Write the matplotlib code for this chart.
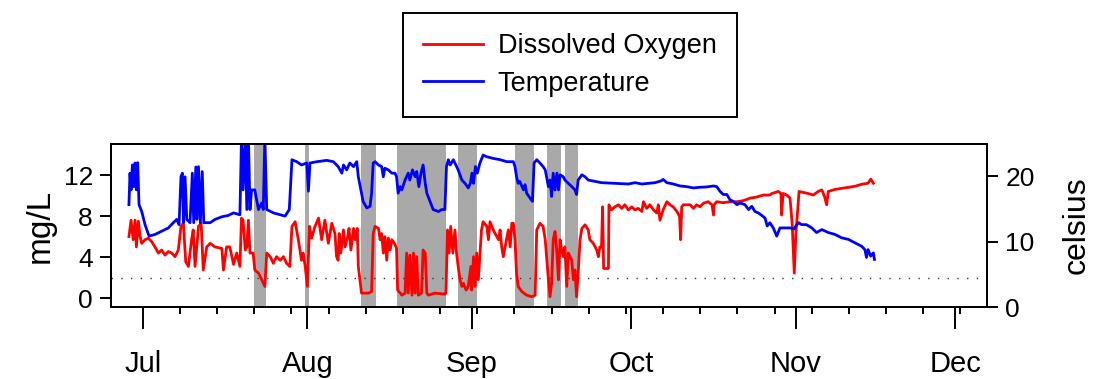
import matplotlib
matplotlib.use("Agg")
import matplotlib.pyplot as plt
import matplotlib.dates as mdates
import numpy as np
from datetime import datetime

plt.rcParams["font.family"] = ["Liberation Sans", "DejaVu Sans"]

# season start; all day values below are days after this date
START = datetime(2013, 7, 1)

# dissolved oxygen (mg/L)
do_day = [
    -2.6, -2.2, -1.8, -1.45, -1.2, -0.83, -0.5, -0.19, 0.43, 1.06, 1.7, 2.3,
    2.95, 3.57, 4.2, 4.82, 5.46, 6.08, 6.7, 7.2, 7.65, 8.1, 8.6, 9.2, 9.5,
    9.85, 10.5, 11.0, 11.4, 12.05, 12.7, 13.6, 14.9, 15.2, 15.8, 16.4, 17.1,
    17.7, 18.3, 18.6, 18.9, 19.3, 19.6, 19.9, 20.2, 20.8, 21.1, 21.8, 22.4,
    23.0, 23.35, 24.0, 24.6, 25.2, 25.9, 26.5, 27.1, 27.7, 28.1, 28.7, 29.3,
    29.9, 30.2, 30.6, 31.0, 31.4, 31.8, 32.45, 33.1, 33.7, 34.3, 34.95, 35.6,
    36.2, 36.5, 36.8, 37.0, 37.3, 37.8, 38.1, 38.6, 38.85, 39.2, 39.7, 40.0,
    40.4, 40.6, 40.9, 41.2, 41.9, 42.5, 43.1, 43.4, 43.75, 44.4, 44.7, 45.0,
    45.3, 45.6, 45.95, 46.25, 46.6, 46.9, 47.4, 47.8, 48.0, 48.5, 48.8, 49.4,
    49.7, 50.0, 50.3, 50.7, 51.0, 51.3, 51.6, 51.9, 52.5, 52.8, 53.2, 53.5,
    53.8, 55.0, 56.9, 57.1, 57.4, 57.7, 58.0, 58.4, 58.8, 59.1, 59.4, 59.75,
    60.1, 60.4, 60.9, 61.3, 61.8, 61.95, 62.3, 62.6, 62.9, 63.2, 63.8, 64.1,
    64.8, 65.1, 65.4, 66.0, 66.7, 67.0, 67.3, 67.6, 67.9, 68.5, 68.85, 69.2,
    69.5, 69.8, 70.1, 70.4, 70.7, 71.4, 72.3, 73.3, 73.9, 74.2, 74.8, 75.4,
    75.8, 76.1, 76.4, 76.7, 77.0, 77.3, 77.65, 78.0, 78.3, 78.6, 78.9, 79.2,
    79.5, 79.85, 80.15, 80.8, 81.1, 81.4, 81.7, 82.0, 82.35, 82.7, 83.3, 83.9,
    84.2, 84.85, 85.5, 85.8, 86.1, 86.4, 86.6, 86.8, 87.7, 87.8, 88.3, 88.9,
    89.6, 90.2, 90.8, 91.45, 92.1, 92.7, 93.3, 94.0, 94.3, 94.9, 95.5, 96.2,
    96.8, 97.1, 97.4, 97.7, 98.0, 98.7, 99.3, 99.9, 100.6, 101.1, 101.3,
    101.5, 101.8, 103.1, 103.7, 104.3, 104.95, 105.6, 106.5, 107.2, 107.5,
    107.6, 108.1, 109.3, 110.6, 111.9, 113.1, 114.4, 115.6, 116.9, 118.1,
    118.5, 119.7, 120.2, 120.3, 120.6, 121.3, 121.9, 122.3, 122.7, 123.0,
    123.35, 123.6, 124.4, 125.3, 126.3, 127.2, 127.9, 128.4, 128.8, 129.1,
    130.4, 131.6, 132.9, 134.1, 135.4, 136.6, 137.1, 137.6,
]
do_mgl = [
    6.0, 7.6, 5.7, 7.6, 5.0, 7.5, 6.0, 5.35, 5.7, 5.85, 5.5, 5.0,
    4.4, 4.7, 4.2, 4.55, 4.4, 4.05, 4.7, 7.0, 7.3, 3.55, 3.1, 5.7, 6.65,
    3.1, 7.0, 7.3, 2.75, 5.0, 5.35, 5.0, 4.85, 2.75, 5.0, 5.0, 3.3,
    4.4, 3.1, 7.8, 7.6, 4.7, 5.0, 7.6, 4.4, 4.4, 2.75, 2.45, 1.8,
    1.15, 4.4, 4.05, 3.4, 4.05, 3.7, 4.05, 3.4, 3.1, 7.0, 7.45, 5.7,
    3.7, 4.4, 3.1, 1.15, 7.0, 5.85, 7.0, 7.8, 5.7, 7.6, 5.35, 7.3,
    6.3, 4.05, 3.7, 6.3, 4.4, 6.65, 5.0, 6.0, 6.8, 4.7, 6.8, 5.7,
    6.8, 3.1, 1.8, 0.5, 0.5, 0.5, 0.65, 6.3, 7.0, 6.8, 5.7, 6.3,
    4.4, 6.0, 3.7, 5.85, 4.7, 5.7, 5.35, 4.85, 0.8, 0.5, 0.3, 0.5,
    4.4, 0.5, 4.2, 0.3, 4.4, 0.5, 4.05, 0.3, 0.5, 4.7, 4.4, 0.5,
    0.3, 0.5, 0.4, 0.5, 6.65, 4.4, 7.0, 4.4, 6.65, 4.4, 3.1, 1.8,
    1.15, 1.45, 0.8, 1.15, 3.1, 0.8, 4.05, 1.15, 4.4, 1.8, 6.65, 7.45,
    7.0, 5.7, 7.45, 6.65, 6.0, 5.7, 6.65, 5.0, 4.05, 5.7, 6.65, 5.0,
    7.3, 7.3, 5.7, 2.45, 1.15, 0.65, 0.3, 0.15, 0.3, 6.65, 7.3, 7.0,
    5.7, 3.7, 1.8, 0.15, 1.45, 5.7, 6.5, 4.4, 1.8, 5.7, 4.7, 4.05,
    5.0, 1.15, 4.4, 3.7, 1.8, 2.75, 0.15, 2.45, 5.7, 6.8, 7.15, 6.65,
    5.7, 5.35, 4.7, 4.05, 5.0, 5.0, 8.9, 2.9, 2.9, 9.1, 8.6, 8.9,
    9.1, 8.75, 9.1, 8.6, 8.9, 8.6, 8.75, 8.45, 9.4, 8.75, 9.1, 8.6,
    8.3, 9.1, 7.6, 8.1, 8.6, 9.4, 9.1, 8.9, 8.45, 7.95, 5.7,
    8.9, 9.1, 9.1, 8.75, 9.1, 8.9, 9.25, 9.4, 9.1, 8.1,
    9.1, 9.4, 9.3, 9.4, 9.4, 9.5, 9.75, 9.85, 10.05, 10.05,
    10.2, 10.4, 10.2, 8.1, 10.2, 10.05, 9.75, 7.3, 2.45, 6.3,
    8.6, 10.4, 10.3, 10.2, 10.05, 10.4, 10.55, 9.9, 9.1, 10.4,
    10.6, 10.7, 10.8, 10.9, 11.1, 11.2, 11.6, 11.2,
]

# water temperature (celsius); 26 marks readings above the plot top
temp_day = [
    -2.6, -2.4, -2.2, -1.95, -1.7, -1.45, -1.2, -0.95, -0.7, -0.19, 0.43,
    1.19, 2.3, 3.57, 4.82, 5.76, 6.4, 6.84, 7.2, 7.46, 7.7, 7.97, 8.3, 8.9,
    9.34, 9.6, 10.0, 10.2, 10.5, 10.85, 11.2, 11.5, 12.7, 13.6, 14.9, 16.1,
    17.1, 18.3, 18.6, 18.9, 19.3, 19.6, 19.9, 20.2, 20.5, 21.1, 21.8, 22.4,
    22.7, 23.0, 23.35, 24.6, 25.9, 26.8, 27.6, 28.1, 29.0, 29.9, 30.9, 31.2,
    31.5, 32.8, 34.65, 35.9, 36.8, 37.5, 37.8, 38.4, 39.0, 39.7, 40.3, 40.6,
    41.2, 41.5, 42.2, 42.8, 43.1, 43.4, 43.75, 44.4, 45.0, 45.3, 45.6, 46.25,
    46.9, 47.5, 47.8, 48.1, 48.5, 48.8, 49.4, 50.0, 50.3, 50.8, 51.3, 51.6,
    52.0, 52.4, 52.8, 53.2, 53.5, 54.1, 54.7, 55.7, 56.3, 56.9, 57.2, 57.55,
    57.9, 58.5, 59.1, 59.4, 60.1, 60.7, 61.3, 61.7, 62.0, 62.3, 62.65, 63.0,
    63.5, 64.1, 64.8, 66.0, 67.3, 68.55, 69.8, 70.1, 70.4, 70.7, 71.0, 71.7,
    72.0, 72.3, 72.9, 73.4, 73.7, 74.2, 74.8, 75.4, 75.8, 76.4, 76.7, 77.0,
    77.3, 77.65, 78.0, 78.3, 78.6, 79.2, 79.5, 80.15, 80.8, 81.4, 81.7, 82.0,
    82.7, 83.3, 83.9, 85.2, 86.4, 88.9, 91.45, 92.7, 94.0, 96.5, 97.7, 98.0,
    98.7, 99.9, 101.2, 102.4, 103.7, 104.95, 106.2, 107.5, 108.1, 108.7,
    109.3, 110.0, 110.6, 111.2, 111.9, 112.5, 113.4, 114.1, 114.7, 115.3,
    115.9, 116.6, 117.2, 117.6, 118.1, 118.75, 119.4, 120.0, 121.0, 121.9,
    122.7, 123.0, 123.5, 124.1, 125.0, 126.0, 126.9, 127.9, 129.1, 130.4,
    131.6, 132.9, 134.1, 135.4, 136.0, 136.3, 136.6, 137.1, 137.6, 137.8,
]
temp_c = [
    15.65, 20.45, 17.9, 21.7, 18.4, 22.0, 17.9, 22.05, 15.65, 14.6, 12.6,
    10.85, 11.1, 11.6, 12.1, 12.9, 13.4, 12.6, 19.9, 20.45, 12.9, 19.9, 13.4, 12.9,
    20.45, 12.9, 21.4, 13.4, 21.45, 12.9, 20.7, 12.9, 12.9, 13.4, 13.8, 14.0,
    14.4, 14.1, 26.0, 17.9, 26.0, 14.9, 26.0, 14.9, 17.9, 17.9, 14.9, 15.9,
    14.9, 26.0, 14.9, 14.4, 14.1, 13.9, 14.9, 22.5, 22.2, 21.7, 22.0, 17.7,
    22.0, 22.2, 22.4, 22.2, 21.45, 20.45, 21.7, 20.95, 22.0, 21.45, 22.2, 19.9,
    17.4, 16.15, 15.15, 15.4, 17.4, 22.0, 22.2, 21.7, 21.45, 19.9, 21.2, 20.95,
    20.45, 20.45, 19.9, 17.4, 18.4, 17.9, 19.4, 20.45, 19.4, 20.95, 19.9, 20.7,
    18.4, 20.45, 21.7, 18.9, 17.4, 16.15, 14.9, 14.6, 14.9, 14.9, 21.45, 22.5,
    21.7, 22.5, 21.45, 20.95, 19.4, 18.9, 18.2, 18.9, 20.45, 18.9, 21.45, 20.45,
    22.0, 23.2, 22.95, 22.7, 22.5, 22.2, 22.2, 21.45, 19.9, 18.9, 19.2, 17.9,
    18.7, 17.4, 16.7, 16.15, 22.0, 22.5, 22.0, 21.45, 20.95, 18.4, 19.4, 16.9,
    20.45, 17.9, 20.45, 17.9, 20.2, 19.9, 19.4, 18.9, 18.4, 17.9, 17.2, 19.4,
    20.2, 19.9, 19.4, 19.2, 19.0, 18.9, 18.8, 19.0, 18.8, 19.0, 19.3, 19.5,
    19.0, 18.8, 18.5, 18.4, 18.2, 18.3, 18.35, 18.5, 18.4, 17.7,
    17.2, 17.2, 16.4, 16.15, 15.65, 15.9, 15.65, 14.9, 15.4, 14.6,
    14.4, 14.0, 13.6, 12.4, 12.9, 12.1, 10.85, 12.1, 12.1, 12.1,
    11.95, 12.4, 12.9, 12.6, 12.6, 12.1, 11.4, 11.85, 11.4, 11.1,
    10.6, 10.35, 9.85, 9.3, 8.8, 7.6, 8.8, 7.8, 8.3, 7.3,
]

# shaded low-oxygen periods (days after START)
band_start = [20.96, 30.56, 41.1, 47.8, 59.4, 70.1, 76.2, 79.5]
band_end = [23.16, 31.3, 43.96, 57.2, 63.0, 73.7, 78.7, 81.9]

month_labels = ["Jul", "Aug", "Sep", "Oct", "Nov", "Dec"]

t0 = mdates.date2num(START)
do_x = t0 + np.asarray(do_day)
temp_x = t0 + np.asarray(temp_day)

fig = plt.figure(figsize=(10.94, 3.79), dpi=100)
ax = fig.add_axes([0.1015, 0.1892, 0.8010, 0.4309])

for s, e in zip(band_start, band_end):
    ax.axvspan(t0 + s, t0 + e, color="#A9A9A9", lw=0, zorder=0)
ax.axhline(2, color="#333333", lw=1.0, ls=(0, (1, 6)), zorder=1)
(l_do,) = ax.plot(do_x, do_mgl, color="red", lw=2.0, zorder=2)

ax.set_xlim(t0 - 5.97, t0 + 159.06)
ax.set_ylim(-0.88, 15.02)
ax.set_yticks([0, 4, 8, 12])

months = [datetime(2013, m, 1) for m in range(7, 13)]
ax.set_xticks(mdates.date2num(months))
ax.set_xticklabels(month_labels)
ax.xaxis.set_minor_locator(mdates.WeekdayLocator(byweekday=mdates.MO))

ax2 = ax.twinx()
(l_temp,) = ax2.plot(temp_x, temp_c, color="blue", lw=2.0)
ax2.set_ylim(0.15, 24.9)
ax2.set_yticks([0, 10, 20])

for a in (ax, ax2):
    for sp in a.spines.values():
        sp.set_linewidth(1.4)
ax.tick_params(axis="x", which="major", length=16, width=1.4, labelsize=21, pad=15)
ax.tick_params(axis="x", which="minor", length=5, width=1.4)
ax.tick_params(axis="y", length=8, width=1.4, labelsize=19, pad=5)
ax2.tick_params(axis="y", length=8, width=1.4, labelsize=19, pad=5)

ax.set_ylabel("mg/L", fontsize=24, va="center")
ax.yaxis.set_label_coords(-0.081, 0.5)
ax2.set_ylabel("celsius", fontsize=23, va="center", rotation=90)
ax2.yaxis.set_label_coords(1.102, 0.5)

leg = fig.legend(
    [l_do, l_temp],
    ["Dissolved Oxygen", "Temperature"],
    loc="center",
    bbox_to_anchor=(0.521, 0.8285),
    fontsize=19.5,
    fancybox=False,
    edgecolor="black",
    framealpha=1,
    handlelength=2.2,
    handletextpad=0.55,
    borderpad=0.75,
    labelspacing=0.42,
)
leg.get_frame().set_linewidth(1.4)

fig.savefig("out.png", dpi=100)
